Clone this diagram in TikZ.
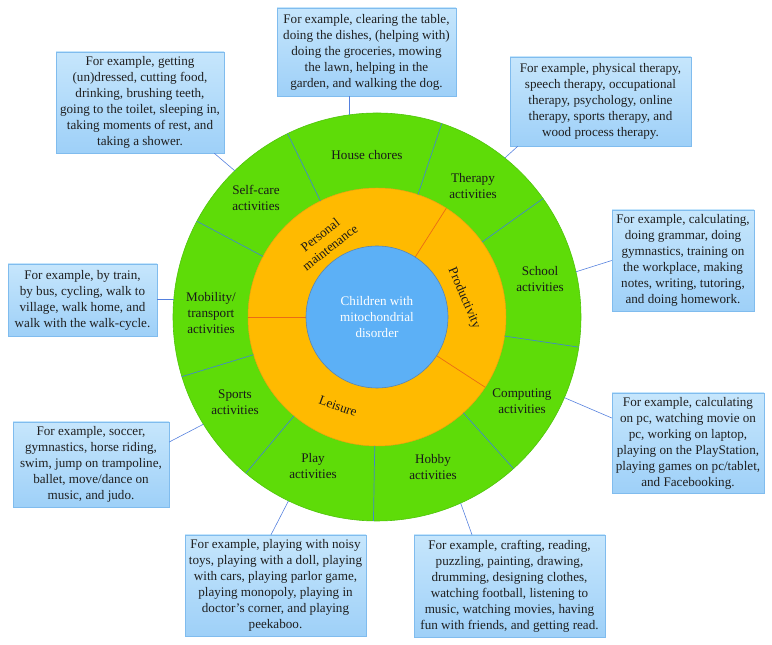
\documentclass[tikz,border=0pt]{standalone}
\usepackage{fontspec}
\setmainfont{Liberation Serif}
\usetikzlibrary{calc}
\definecolor{ringgreen}{RGB}{94,220,8}
\definecolor{greenedge}{RGB}{78,196,10}
\definecolor{ringorange}{RGB}{255,186,0}
\definecolor{orangeedge}{RGB}{236,160,20}
\definecolor{coreblue}{RGB}{92,176,246}
\definecolor{coreedge}{RGB}{90,132,176}
\definecolor{boxtop}{RGB}{198,230,252}
\definecolor{boxbottom}{RGB}{158,208,248}
\definecolor{boxedge}{RGB}{128,188,238}
\definecolor{linkblue}{RGB}{84,128,222}
\definecolor{splitblue}{RGB}{66,138,200}
\definecolor{splitorange}{RGB}{234,108,22}

\begin{document}
\begin{tikzpicture}[x=0.03cm, y=0.03cm,
  every node/.style={font=\fontsize{11.2}{13.7}\selectfont, align=center, inner sep=0pt},
  exbox/.style n args={2}{draw=boxedge, top color=boxtop, bottom color=boxbottom,
    text=black!88, minimum width=#1*0.03cm, minimum height=#2*0.03cm},
  link/.style={draw=linkblue, line width=0.5pt},
  ringtext/.style={text=black!90}]
\useasboundingbox (0,0) rectangle (772,645);

\coordinate (c) at (377,328);

% rings
\filldraw [fill=ringgreen, draw=greenedge, line width=0.5pt] (c) circle (204);
\filldraw [fill=ringorange, draw=orangeedge, line width=0.4pt] (c) circle (129);
\foreach \a in {116,71.5,35.5,-8.5,-48,-91,-130,197,152}
  \draw [splitblue, line width=0.6pt] ($(c)+(\a:129)$) -- ($(c)+(\a:204)$);
\foreach \a in {57.5,-33,180}
  \draw [splitorange, line width=0.6pt] ($(c)+(\a:71)$) -- ($(c)+(\a:129)$);
\filldraw [fill=coreblue, draw=coreedge, line width=0.5pt] (c) circle (71);

\node (core) at (c) [text=white] {Children with\\mitochondrial\\disorder};

% inner ring
\node (pm) at (325,404) [ringtext, rotate=38] {Personal\\maintenance};
\node (prod) at (464,347) [ringtext, rotate=-67] {Productivity};
\node (leis) at (338,239) [ringtext, rotate=-20] {Leisure};

% outer ring
\node (house) at (367,490) [ringtext] {House chores};
\node (therapy) at (473,459) [ringtext] {Therapy\\activities};
\node (school) at (540,366) [ringtext] {School\\activities};
\node (computing) at (522,244) [ringtext] {Computing\\activities};
\node (hobby) at (433,178) [ringtext] {Hobby\\activities};
\node (play) at (313,179) [ringtext] {Play\\activities};
\node (sports) at (235,243) [ringtext] {Sports\\activities};
\node (mobility) at (211,332) [ringtext] {Mobility/\\transport\\activities};
\node (self) at (256,447) [ringtext] {Self-care\\activities};

% examples
\node (selfx) at (140,542.5) [exbox={168}{101}] {For example, getting\\(un)dressed, cutting food,\\drinking, brushing teeth,\\going to the toilet, sleeping in,\\taking moments of rest, and\\taking a shower.};
\node (housex) at (366.5,593) [exbox={179}{88}] {For example, clearing the table,\\doing the dishes, (helping with)\\doing the groceries, mowing\\the lawn, helping in the\\garden, and walking the dog.};
\node (therapyx) at (600.5,543.5) [exbox={181}{89}] {For example, physical therapy,\\speech therapy, occupational\\therapy, psychology, online\\therapy, sports therapy, and\\wood process therapy.};
\node (schoolx) at (683,384.5) [exbox={142}{101}] {For example, calculating,\\doing grammar, doing\\gymnastics, training on\\the workplace, making\\notes, writing, tutoring,\\and doing homework.};
\node (mobilityx) at (82.5,345) [exbox={149}{72}] {For example, by train,\\by bus, cycling, walk to\\village, walk home, and\\walk with the walk-cycle.};
\node (computingx) at (688,202) [exbox={152}{100}] {For example, calculating\\on pc, watching movie on\\pc, working on laptop,\\playing on the PlayStation,\\playing games on pc/tablet,\\and Facebooking.};
\node (sportsx) at (91,180.5) [exbox={156}{85}] {For example, soccer,\\gymnastics, horse riding,\\swim, jump on trampoline,\\ballet, move/dance on\\music, and judo.};
\node (playx) at (275.5,59.5) [exbox={181}{101}] {For example, playing with noisy\\toys, playing with a doll, playing\\with cars, playing parlor game,\\playing monopoly, playing in\\doctor's corner, and playing\\peekaboo.};
\node (hobbyx) at (509.5,59) [exbox={191}{102}] {For example, crafting, reading,\\puzzling, painting, drawing,\\drumming, designing clothes,\\watching football, listening to\\music, watching movies, having\\fun with friends, and getting read.};

% links to the ring
\coordinate (e1) at ($(c)+(134.2:204)$);
\coordinate (e2) at ($(c)+(97.9:204)$);
\coordinate (e3) at ($(c)+(51.2:204)$);
\coordinate (e4) at ($(c)+(12.8:204)$);
\coordinate (e5) at ($(c)+(174.9:204)$);
\coordinate (e6) at ($(c)+(-23.3:204)$);
\coordinate (e7) at ($(c)+(211.7:204)$);
\coordinate (e8) at ($(c)+(244.3:204)$);
\coordinate (e9) at ($(c)+(-65.8:204)$);

\draw [link] ($(selfx.south east)+(-10,0)$) -- (e1);
\draw [link] (e2 |- housex.south) -- (e2);
\draw [link] ($(therapyx.south west)+(8,0)$) -- (e3);
\draw [link] (schoolx.west) -- (e4);
\draw [link] (mobilityx.east |- e5) -- (e5);
\draw [link] ($(computingx.west)+(0,25)$) -- (e6);
\draw [link] ($(sportsx.east)+(0,22.5)$) -- (e7);
\draw [link] ($(playx.north)+(-4.5,0)$) -- (e8);
\draw [link] ($(hobbyx.north)+(-37.5,0)$) -- (e9);
\end{tikzpicture}
\end{document}
